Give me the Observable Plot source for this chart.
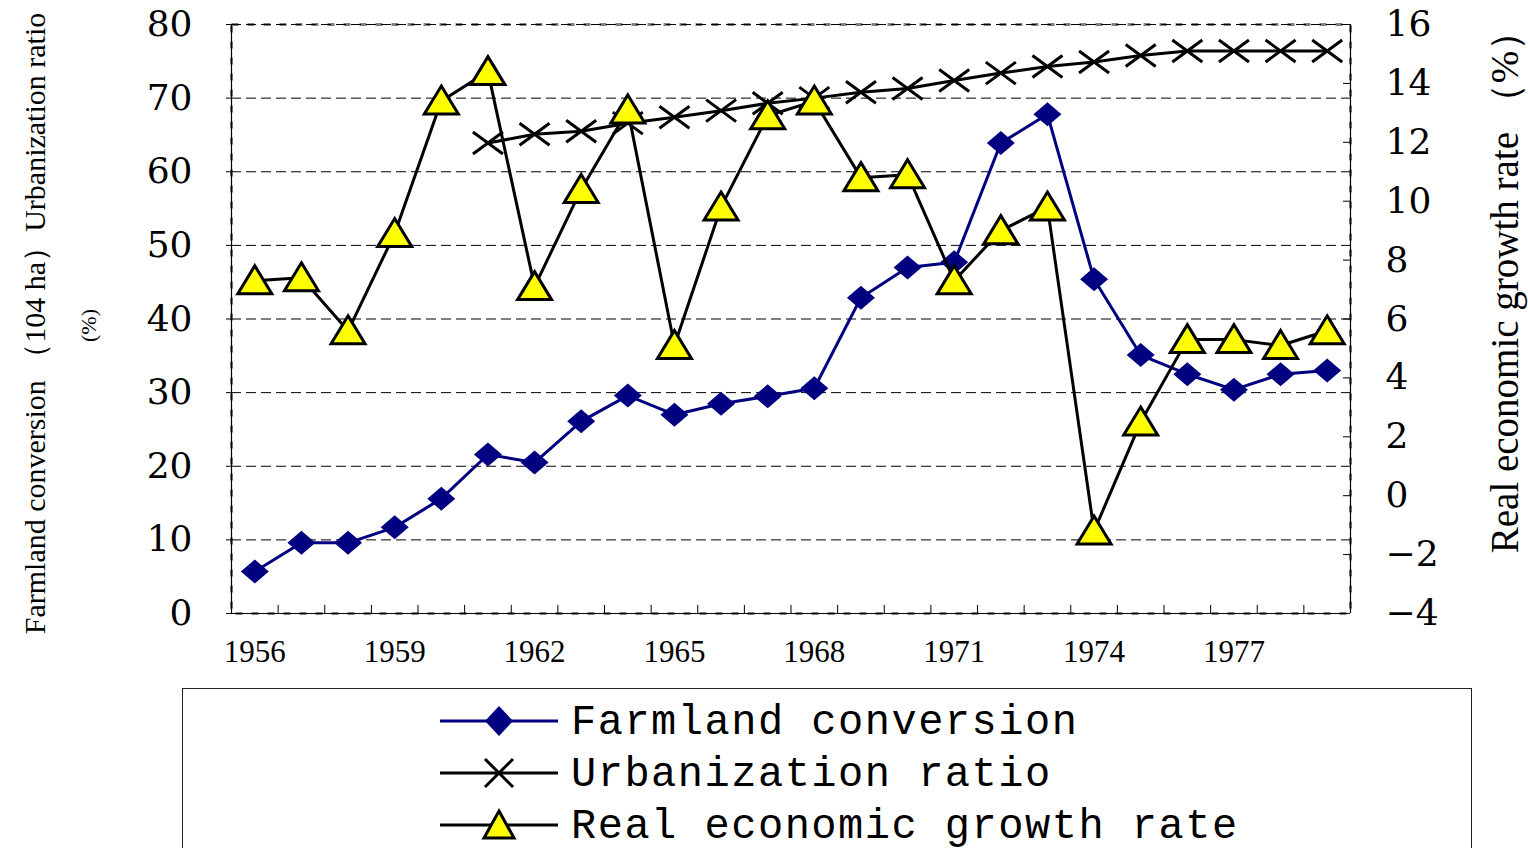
<!DOCTYPE html>
<html><head><meta charset="utf-8">
<script src="https://cdn.jsdelivr.net/npm/d3@7"></script>
<script src="https://cdn.jsdelivr.net/npm/@observablehq/plot@0.6"></script>
<style>
body{margin:0;background:#fff;width:1528px;height:848px;overflow:hidden;position:relative}
#chart svg{display:block}
#legend{position:absolute;left:182px;top:688px;width:1290px;height:200px;border:1px solid #222;box-sizing:border-box;background:#fff}
</style>
</head><body><div id="chart"></div><div id="legend"></div>
<script>
const years = [1956,1957,1958,1959,1960,1961,1962,1963,1964,1965,1966,1967,1968,1969,1970,1971,1972,1973,1974,1975,1976,1977,1978,1979];
const farmland = [5.7,9.6,9.6,11.7,15.6,21.6,20.5,26.1,29.6,27.0,28.5,29.5,30.6,42.9,47.0,47.7,63.9,67.8,45.4,35.1,32.5,30.4,32.5,33.0];
const urbanization = [null,null,null,null,null,63.9,65.1,65.5,66.6,67.4,68.3,69.3,70.0,70.8,71.3,72.4,73.4,74.3,74.9,75.8,76.4,76.4,76.4,76.4];
const growth = [7.3,7.4,5.6,8.9,13.4,14.4,7.1,10.4,13.1,5.1,9.8,12.9,13.4,10.8,10.9,7.3,9.0,9.8,-1.2,2.5,5.3,5.3,5.1,5.6];
const leftTicks = [0,10,20,30,40,50,60,70,80];
const rightTicks = [-4,-2,0,2,4,6,8,10,12,14,16];
const xTickYears = [1956,1959,1962,1965,1968,1971,1974,1977];
const seriesNames = ["Farmland conversion","Urbanization ratio","Real economic growth rate"];
const leftTitle = "Farmland conversion （104 ha）Urbanization ratio";
const leftTitle2 = "(%)";
const rightTitle = "Real economic growth rate （%）";

// right axis (-4..16) mapped onto the left scale (0..80)
const toLeft = g => (g + 4) * 4;
const fromLeft = v => v / 4 - 4;

const farmRows = years.map((year, i) => ({year, value: farmland[i]}));
const urbRows = years.map((year, i) => ({year, value: urbanization[i]})).filter(d => d.value != null);
const growRows = years.map((year, i) => ({year, value: toLeft(growth[i])}));
const boundaries = years.slice(0, -1).map(y => y + 0.5);

const diamond = {draw(c){c.moveTo(0,-12);c.lineTo(14,0);c.lineTo(0,12);c.lineTo(-14,0);c.closePath();}};
const cross = {draw(c){c.moveTo(-15,-11);c.lineTo(15,11);c.moveTo(-15,11);c.lineTo(15,-11);}};
const tri = {draw(c){c.moveTo(0,-15);c.lineTo(17,13);c.lineTo(-17,13);c.closePath();}};

const W = 1528, H = 680, ML = 231, MR = 178, MT = 24, MB = 67;
const CX = ML + (W - ML - MR) / 2, CY = MT + (H - MT - MB) / 2;

const chart = Plot.plot({
  width: W, height: H,
  marginLeft: ML, marginRight: MR, marginTop: MT, marginBottom: MB,
  x: {domain: [1955.5, 1979.5]},
  y: {domain: [0, 80]},
  style: {background: "#fff", color: "#000"},
  marks: [
    Plot.frame({stroke: "#808080", strokeWidth: 3, strokeDasharray: "7,9"}),
    Plot.ruleY(leftTicks.filter(d => d > 0), {y: d => d, stroke: "#000", strokeWidth: 1, strokeDasharray: "10,5"}),
    Plot.ruleX([1955.5, 1979.5], {x: d => d, stroke: "#000", strokeWidth: 1.2}),
    Plot.ruleY([0], {y: d => d, stroke: "#000", strokeWidth: 1.2}),
    Plot.ruleX(boundaries, {x: d => d, y1: 0, y2: 1.1, stroke: "#000", strokeWidth: 1}),
    Plot.tickY(rightTicks.map(toLeft), {y: d => d, insetLeft: (W - ML - MR) - 7, stroke: "#000", strokeWidth: 1}),
    Plot.axisY({ticks: leftTicks, tickSize: 5, tickPadding: 34, fontSize: 36, fontFamily: "DejaVu Serif", label: null}),
    Plot.axisY({anchor: "right", ticks: rightTicks.map(toLeft), tickFormat: v => { const g = Math.round(fromLeft(v)); return g < 0 ? "\u2212" + Math.abs(g) : String(g); }, tickSize: 0, tickPadding: 35, fontSize: 36, fontFamily: "DejaVu Serif", label: null}),
    Plot.axisX({ticks: xTickYears, tickFormat: d => String(d), tickSize: 0, tickPadding: 26, fontSize: 31, fontFamily: "Liberation Serif", label: null}),
    Plot.line(farmRows, {x: "year", y: "value", stroke: "#000080", strokeWidth: 3}),
    Plot.dot(farmRows, {x: "year", y: "value", symbol: diamond, fill: "#000080", stroke: "none"}),
    Plot.line(urbRows, {x: "year", y: "value", stroke: "#000", strokeWidth: 3}),
    Plot.dot(urbRows, {x: "year", y: "value", symbol: cross, fill: "none", stroke: "#000", strokeWidth: 3}),
    Plot.line(growRows, {x: "year", y: "value", stroke: "#000", strokeWidth: 3}),
    Plot.dot(growRows, {x: "year", y: "value", symbol: tri, fill: "#ffff00", stroke: "#000", strokeWidth: 3}),
    Plot.text([leftTitle], {text: d => d, frameAnchor: "middle", dx: 35 - CX, dy: 323 - CY, rotate: -90, fontSize: 30, fontFamily: "Liberation Serif", fill: "#000"}),
    Plot.text([leftTitle2], {text: d => d, frameAnchor: "middle", dx: 88 - CX, dy: 325 - CY, rotate: -90, fontSize: 22, fontFamily: "Liberation Serif", fill: "#000"}),
    Plot.text([rightTitle], {text: d => d, frameAnchor: "middle", dx: 1505 - CX, dy: 282 - CY, rotate: -90, fontSize: 39, fontFamily: "Liberation Serif", fill: "#000"})
  ]
});
document.getElementById("chart").appendChild(chart);

// legend
const lg = d3.select("#legend").append("svg").attr("width", 1288).attr("height", 170).style("display", "block");
const rowsY = [32, 84, 136];
const styles = [
  {stroke: "#000080", sym: "M0,-15L14,0L0,15L-14,0Z", fill: "#000080", symStroke: "none"},
  {stroke: "#000", sym: "M-14,-14L14,14M-14,14L14,-14", fill: "none", symStroke: "#000"},
  {stroke: "#000", sym: "M0,-14L15,13L-15,13Z", fill: "#ffff00", symStroke: "#000"}
];
seriesNames.forEach((name, i) => {
  const y = rowsY[i], s = styles[i];
  lg.append("line").attr("x1", 257).attr("x2", 375).attr("y1", y).attr("y2", y).attr("stroke", s.stroke).attr("stroke-width", 3);
  lg.append("path").attr("d", s.sym).attr("transform", `translate(316,${y})`).attr("fill", s.fill).attr("stroke", s.symStroke).attr("stroke-width", 3);
  lg.append("text").attr("x", 388).attr("y", y + 13).attr("font-family", "Liberation Mono").attr("font-size", 42).attr("letter-spacing", 1.5).attr("fill", "#000").text(name);
});
</script>
</body></html>
